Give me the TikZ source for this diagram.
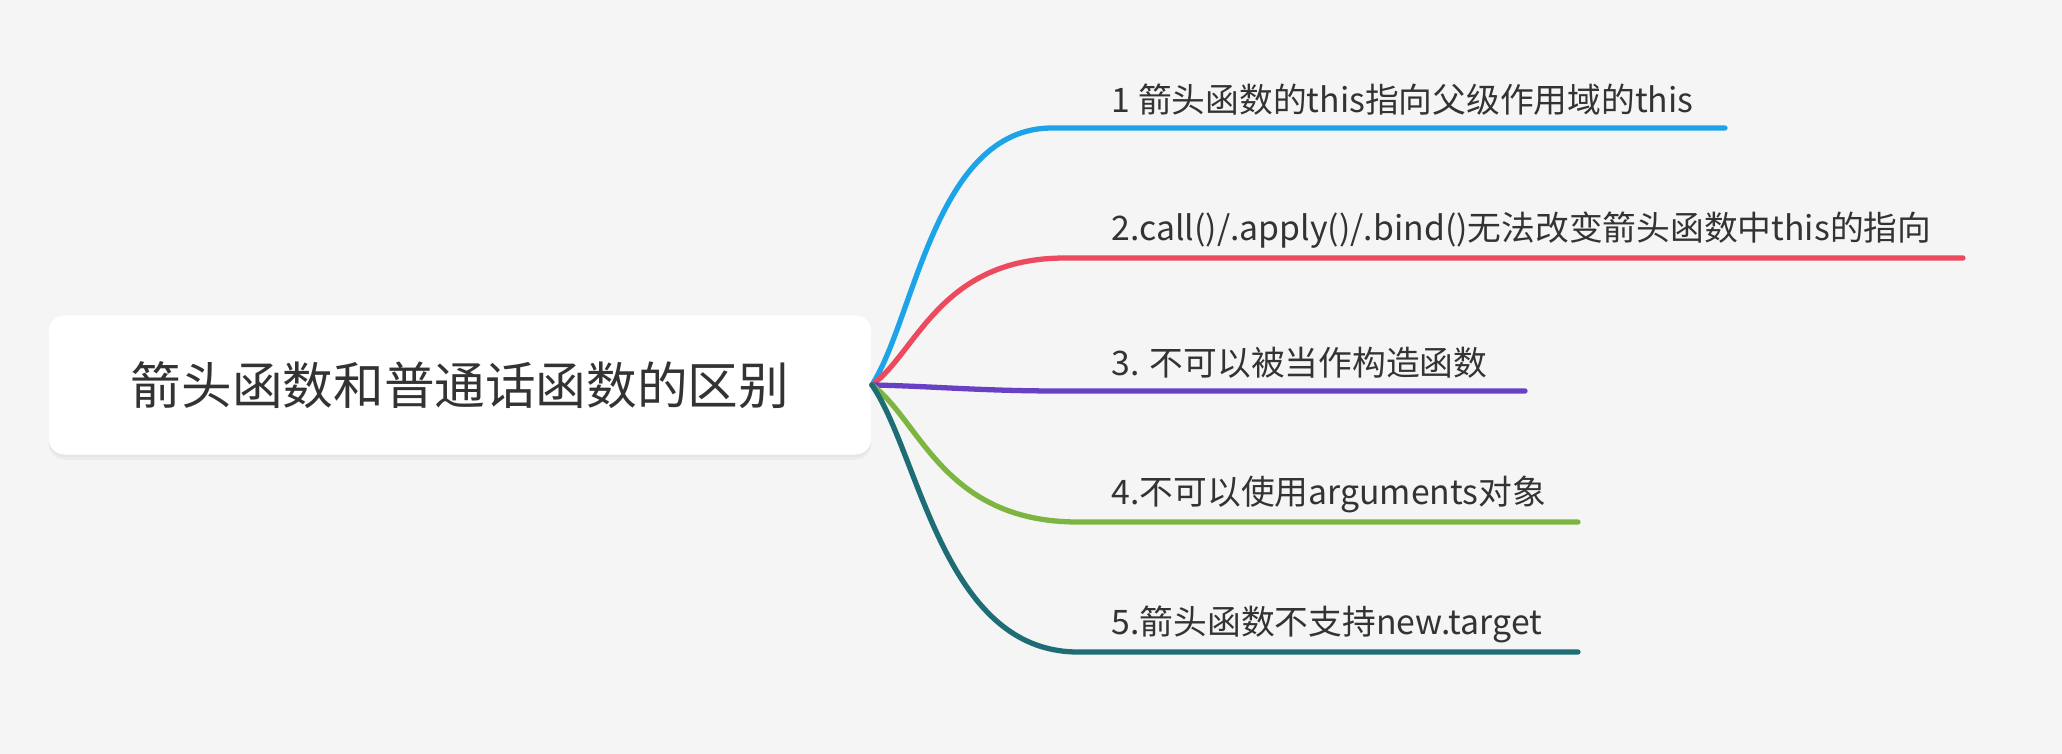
\documentclass[tikz,border=0pt]{standalone}
\usepackage{fontspec}
\setmainfont{Noto Sans CJK SC}
\usetikzlibrary{shadows}
\definecolor{bgcol}{RGB}{245,245,245}
\definecolor{txtcol}{RGB}{51,51,51}
\definecolor{bluecol}{RGB}{29,164,232}
\definecolor{redcol}{RGB}{236,74,94}
\definecolor{purplecol}{RGB}{104,64,196}
\definecolor{greencol}{RGB}{124,182,64}
\definecolor{tealcol}{RGB}{30,108,116}
\tikzset{
  rootbox/.style={fill=white, rounded corners=4.5pt, minimum width=8.22cm, minimum height=1.39cm,
    text=txtcol, font=\fontsize{14.4pt}{16pt}\selectfont,
    drop shadow={shadow xshift=0pt, shadow yshift=-1.5pt, opacity=0.07},
    drop shadow={shadow xshift=0pt, shadow yshift=-0.7pt, opacity=0.05}},
  leaf/.style={anchor=west, inner sep=0pt, text=txtcol, font=\fontsize{9.6pt}{11pt}\selectfont},
  branch/.style={line width=1.5pt, line cap=round}
}
\begin{document}
\begin{tikzpicture}[x=0.01cm, y=-0.01cm]
\fill[bgcol] (0,0) rectangle (2062,754);
\useasboundingbox (0,0) rectangle (2062,754);
% root
\node[rootbox] (root) at (460,385) {箭头函数和普通话函数的区别};
% branch ends
\coordinate (b1) at (1052,128);
\coordinate (e1) at (1725,128);
\coordinate (b2) at (1065,258);
\coordinate (e2) at (1963,258);
\coordinate (b3) at (1060,391);
\coordinate (e3) at (1525,391);
\coordinate (b4) at (1078,522);
\coordinate (e4) at (1578,522);
\coordinate (b5) at (1078,652);
\coordinate (e5) at (1578,652);
% branches
\draw[branch, bluecol] (root.east) .. controls (915,318) and (935,128) .. (b1) -- (e1);
\draw[branch, redcol] (root.east) .. controls (917,352) and (940,258) .. (b2) -- (e2);
\draw[branch, purplecol] (root.east) .. controls (930,386) and (980,391) .. (b3) -- (e3);
\draw[branch, greencol] (root.east) .. controls (920,420) and (943,522) .. (b4) -- (e4);
\draw[branch, tealcol] (root.east) .. controls (920,455) and (943,652) .. (b5) -- (e5);
% labels
\node[leaf] (t1) at (1111,100) {1 箭头函数的this指向父级作用域的this};
\node[leaf] (t2) at (1111,230) {2.call()/.apply()/.bind()无法改变箭头函数中this的指向};
\node[leaf] (t3) at (1111,363) {3. 不可以被当作构造函数};
\node[leaf] (t4) at (1111,494) {4.不可以使用arguments对象};
\node[leaf] (t5) at (1111,624) {5.箭头函数不支持new.target};
\end{tikzpicture}
\end{document}
